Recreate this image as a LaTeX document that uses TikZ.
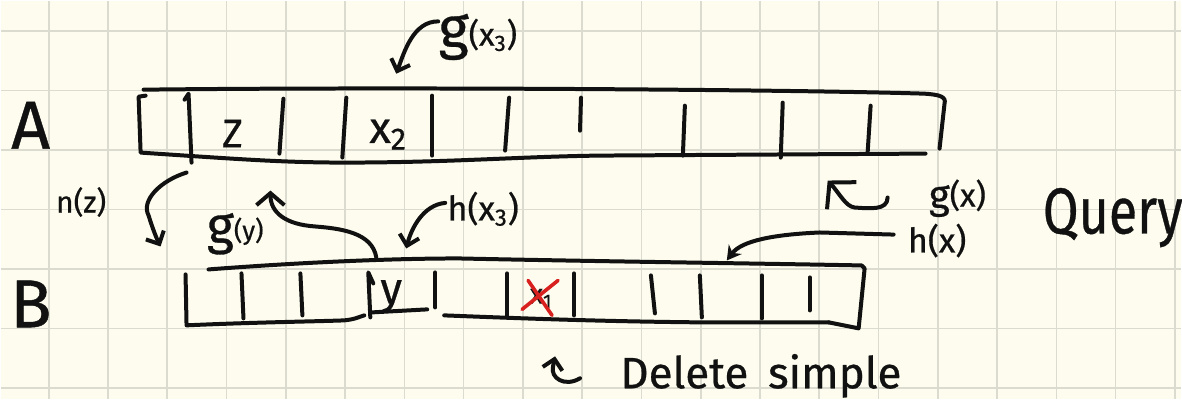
\documentclass[tikz,border=0pt]{standalone}
\usepackage{fontspec}
\setmainfont{Fira Sans}[FakeBold=0.6]
\usetikzlibrary{arrows.meta}
\definecolor{paper}{HTML}{FDFCEE}
\definecolor{gridc}{HTML}{DCDBD0}
\definecolor{inkred}{HTML}{D8201F}
\definecolor{inkc}{HTML}{111111}
\newcommand{\hwsize}[1]{\fontsize{#1}{#1}\selectfont}
\tikzset{
  gridline/.style={draw=gridc, line width=0.8pt},
  ink/.style={draw=inkc, line width=2pt, line cap=round, line join=round},
  redink/.style={draw=inkred, line width=1.8pt, line cap=round},
  arr/.style={ink, -{Straight Barb[length=5pt,width=10pt]}},
  bigarr/.style={ink, -{Straight Barb[length=9pt,width=20pt]}},
  smallarr/.style={ink, -{Stealth[length=7pt,width=8pt]}},
  txt/.style={inner sep=0pt, text=inkc},
  lbl/.style={txt, anchor=base west}
}
\begin{document}
\begin{tikzpicture}[x=0.5pt,y=-0.5pt]
\fill[paper] (0,0) rectangle (1182,399);
\foreach \i in {0,...,19} \draw[gridline] ({48+59.35*\i},0) -- ({48+59.35*\i},399);
\foreach \j in {0,...,6} \draw[gridline] (0,{30+59.65*\j}) -- (1182,{30+59.65*\j});
\useasboundingbox (0,0) rectangle (1182,399);

% ---------- array A ----------
\draw[ink] (143,89) .. controls (400,86) and (800,89) .. (925,93)
  .. controls (940,94) and (947,96) .. (945,103) -- (940,148);
\draw[ink] (145,95) -- (138,96) -- (140,152)
  .. controls (230,158) and (280,162) .. (344,162)
  .. controls (450,162) and (520,156) .. (600,155) -- (926,153);
\draw[ink] (184,99) -- (188,93) -- (191,162);
\foreach \a/\b/\c/\d in {283/98/279/153, 346/97/342/157, 432/95/432/155,
  509/97/505/150, 581/97/580/130, 685/105/683/155, 783/102/781/157, 871/105/868/152}
  \draw[ink] (\a,\b) -- (\c,\d);

% ---------- array B ----------
\draw[ink] (208,269) .. controls (300,262) and (390,258) .. (459,258)
  .. controls (600,261) and (760,263) .. (862,265) -- (865,268) -- (859,328) -- (829,322);
\draw[ink] (185,274) -- (186,325) .. controls (250,322) and (320,321) .. (344,320)
  .. controls (355,319) and (360,316) .. (364,315);
\draw[ink] (444,315) .. controls (520,318) and (600,321) .. (700,322) -- (829,322);
\draw[ink] (373,283) -- (368,272) -- (370,317);
\draw[ink] (372,312) -- (427,309);
\foreach \a/\b/\c/\d in {241/273/243/318, 300/273/302/315, 435/272/435/307,
  507/273/507/315, 574/273/574/315, 651/275/655/313, 700/275/702/317,
  762/275/762/318, 810/277/810/310}
  \draw[ink] (\a,\b) -- (\c,\d);

% ---------- cell texts ----------
\node[txt] (lblz) at (232,133) {\hwsize{20}Z};
\node[txt] (lblxtwo) at (388,134) {\hwsize{22}x\textsubscript{2}};
\node[txt] (lbly) at (391,296) {\hwsize{22}y};
\node[txt] (lblxone) at (541,298) {\hwsize{14}x\textsubscript{1}};
\draw[redink] (522,309) -- (558,280);
\draw[redink] (528,280) -- (552,315);

% ---------- row letters ----------
\node[lbl] (rowA) at (10,148) {\hwsize{34}A};
\node[lbl] (rowB) at (9,327) {\hwsize{34}B};

% ---------- labels ----------
\node[lbl] (gxthree) at (438,47) {\hwsize{29}g\hwsize{16}\raisebox{1pt}{(x\textsubscript{3})}};
\node[lbl] (nz) at (55,212) {\hwsize{15}n(z)};
\node[lbl] (gy) at (206,243) {\hwsize{26}g\hwsize{13}\raisebox{2pt}{(y)}};
\node[lbl] (hxthree) at (447,220) {\hwsize{17}h(x\textsubscript{3})};
\node[lbl] (gx) at (929,208) {\hwsize{20}g\hwsize{16}\raisebox{1pt}{(x)}};
\node[lbl] (hx) at (908,252) {\hwsize{17}h(x)};
\node[lbl] (query) at (1043,233) {\hwsize{26}\scalebox{1}[1.25]{Query}};
\node[lbl] (del) at (620,388) {\hwsize{22}Delete\hspace{0.45em}simple};

% ---------- connector end points ----------
\coordinate (tA) at (396,73);
\coordinate (sNz) at (186,172);
\coordinate (tNz) at (160,246);
\coordinate (sYB) at (376,257);
\coordinate (tGy) at (270,190);
\coordinate (tHx3) at (406,248);
\coordinate (sGx) at (888,197);
\coordinate (tGx) at (828,180);
\coordinate (tHx) at (727,260);
\coordinate (sDel) at (580,378);
\coordinate (tDel) at (555,356);

% ---------- connectors ----------
\draw[arr] ([yshift=-4pt]gxthree.north west) .. controls +(-25,0) and +(8,-22) .. (tA);
\draw[arr] (sNz) .. controls (160,180) and (140,200) .. (148,215)
  .. controls (152,228) and (156,238) .. (tNz);
\draw[ink, -{Straight Barb[length=6pt,width=14pt]}] (sYB) .. controls (372,232) and (340,228) .. (315,226)
  .. controls (285,224) and (270,212) .. (tGy);
\draw[arr] ([xshift=-1pt,yshift=3pt]hxthree.west) .. controls +(-22,2) and +(5,-20) .. (tHx3);
\draw[bigarr] (sGx) .. controls (888,210) and (870,208) .. (855,207)
  .. controls (846,206) and (840,193) .. (tGx);
\draw[smallarr] ([xshift=-7pt,yshift=3pt]hx.west) -- (820,232)
  .. controls (775,234) and (742,240) .. (tHx);
\draw[arr] (sDel) .. controls (565,387) and (550,378) .. (553,366) -- (tDel);
\end{tikzpicture}
\end{document}
